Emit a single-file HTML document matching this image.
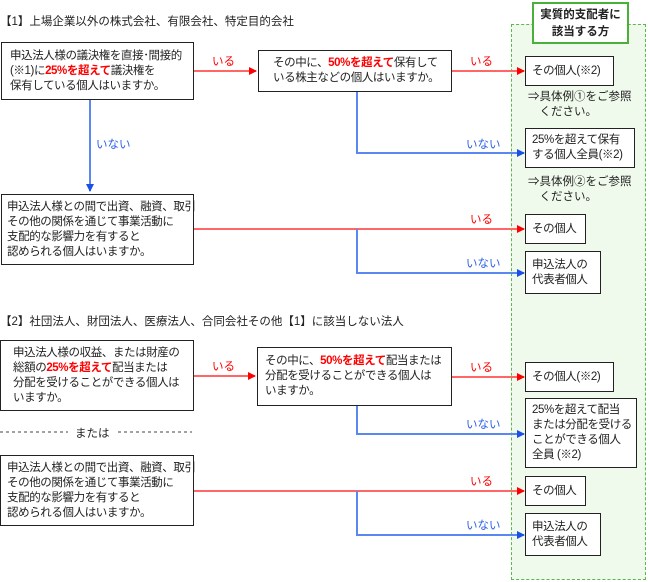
<!DOCTYPE html>
<html><head><meta charset="utf-8"><style>
body{margin:0;width:648px;height:582px;background:#fff;position:relative;overflow:hidden;font-family:"Liberation Sans","Noto Sans CJK JP",sans-serif;font-size:11.5px;color:#222;}
.a{position:absolute;white-space:nowrap}
.b{position:absolute;border:1px solid #222;background:#fff;box-sizing:border-box;line-height:15px;padding:0 6px;white-space:nowrap;letter-spacing:-0.4px;display:flex;align-items:center}
.r{color:#f00;font-weight:bold}
.lr{position:absolute;color:#f00;font-size:11.5px}
.lb{position:absolute;color:#2a5fe8;font-size:11.5px}
</style></head><body>
<div class="a" style="left:511px;top:24px;width:135px;height:556px;border:1px dashed #5bb84a;background:#f0faec;box-sizing:border-box"></div>
<div class="a" style="left:532px;top:2px;width:97px;height:42px;border:2px solid #49b03a;background:#fff;box-sizing:border-box;text-align:center;font-weight:bold;font-size:11.5px;line-height:17px;padding-top:3px">実質的支配者に<br>該当する方</div>
<svg class="a" style="left:0;top:0" width="648" height="582">
<defs><marker id="mr" markerWidth="8" markerHeight="8" refX="7" refY="4" orient="auto" markerUnits="userSpaceOnUse"><path d="M0,0L8,4L0,8z" fill="#f00"/></marker>
<marker id="mb" markerWidth="8" markerHeight="8" refX="7" refY="4" orient="auto" markerUnits="userSpaceOnUse"><path d="M0,0L8,4L0,8z" fill="#1a4fe8"/></marker></defs>
<g stroke="#f66" stroke-width="2" fill="none">
<path d="M193 71H256" marker-end="url(#mr)"/><path d="M451 71H524" marker-end="url(#mr)"/>
<path d="M193 229H524" marker-end="url(#mr)"/>
<path d="M193 376H255" marker-end="url(#mr)"/><path d="M451 377H524" marker-end="url(#mr)"/>
<path d="M193 491H524" marker-end="url(#mr)"/></g>
<g stroke="#5b87f0" stroke-width="2" fill="none">
<path d="M90 99V191" marker-end="url(#mb)"/>
<path d="M357 91V153H524" marker-end="url(#mb)"/>
<path d="M357 229V273H524" marker-end="url(#mb)"/>
<path d="M357 405V434H524" marker-end="url(#mb)"/>
<path d="M357 491V535H524" marker-end="url(#mb)"/></g>
<g stroke="#444" stroke-width="1" stroke-dasharray="3,3"><path d="M0 432H68M118 432H192"/></g>
</svg>
<div class="a" style="left:0;top:13px">【1】上場企業以外の株式会社、有限会社、特定目的会社</div>
<div class="b" style="left:1px;top:42px;width:193px;height:58px;padding-left:8px"><div>申込法人様の議決権を直接･間接的<br>(※1)に<span class="r">25%を超えて</span>議決権を<br>保有している個人はいますか。</div></div>
<div class="b" style="left:258px;top:50px;width:194px;height:42px;padding-left:14px"><div>その中に、<span class="r">50%を超えて</span>保有して<br>いる株主などの個人はいますか。</div></div>
<div class="lr" style="left:212px;top:53px">いる</div>
<div class="lr" style="left:470px;top:53px">いる</div>
<div class="lb" style="left:96px;top:136px">いない</div>
<div class="lb" style="left:466px;top:136px">いない</div>
<div class="b" style="left:525px;top:56px;width:89px;height:30px"><div>その個人(※2)</div></div>
<div class="a" style="left:528px;top:90px;line-height:15px">⇒具体例①をご参照<br>　ください。</div>
<div class="b" style="left:525px;top:128px;width:110px;height:40px"><div>25%を超えて保有<br>する個人全員(※2)</div></div>
<div class="a" style="left:528px;top:175px;line-height:15px">⇒具体例②をご参照<br>　ください。</div>
<div class="b" style="left:1px;top:194px;width:193px;height:71px;padding:0 5px"><div>申込法人様との間で出資、融資、取引<br>その他の関係を通じて事業活動に<br>支配的な影響力を有すると<br>認められる個人はいますか。</div></div>
<div class="lr" style="left:470px;top:211px">いる</div>
<div class="lb" style="left:466px;top:255px">いない</div>
<div class="b" style="left:525px;top:214px;width:61px;height:30px"><div>その個人</div></div>
<div class="b" style="left:525px;top:251px;width:76px;height:43px"><div>申込法人の<br>代表者個人</div></div>

<div class="a" style="left:0;top:313px">【2】社団法人、財団法人、医療法人、合同会社その他【1】に該当しない法人</div>
<div class="b" style="left:0;top:340px;width:194px;height:71px;padding:0 12px"><div>申込法人様の収益、または財産の<br>総額の<span class="r">25%を超えて</span>配当または<br>分配を受けることができる個人は<br>いますか。</div></div>
<div class="lr" style="left:212px;top:358px">いる</div>
<div class="b" style="left:257px;top:347px;width:195px;height:59px;padding:0 7px"><div>その中に、<span class="r">50%を超えて</span>配当または<br>分配を受けることができる個人は<br>いますか。</div></div>
<div class="lr" style="left:470px;top:359px">いる</div>
<div class="lb" style="left:466px;top:416px">いない</div>
<div class="b" style="left:525px;top:362px;width:89px;height:30px"><div>その個人(※2)</div></div>
<div class="b" style="left:525px;top:398px;width:112px;height:70px"><div>25%を超えて配当<br>または分配を受ける<br>ことができる個人<br>全員 (※2)</div></div>
<div class="a" style="left:75px;top:425px">または</div>
<div class="b" style="left:0;top:455px;width:194px;height:71px;padding:0 6px"><div>申込法人様との間で出資、融資、取引<br>その他の関係を通じて事業活動に<br>支配的な影響力を有すると<br>認められる個人はいますか。</div></div>
<div class="lr" style="left:470px;top:473px">いる</div>
<div class="lb" style="left:466px;top:517px">いない</div>
<div class="b" style="left:525px;top:476px;width:61px;height:30px"><div>その個人</div></div>
<div class="b" style="left:525px;top:513px;width:76px;height:43px"><div>申込法人の<br>代表者個人</div></div>
</body></html>
